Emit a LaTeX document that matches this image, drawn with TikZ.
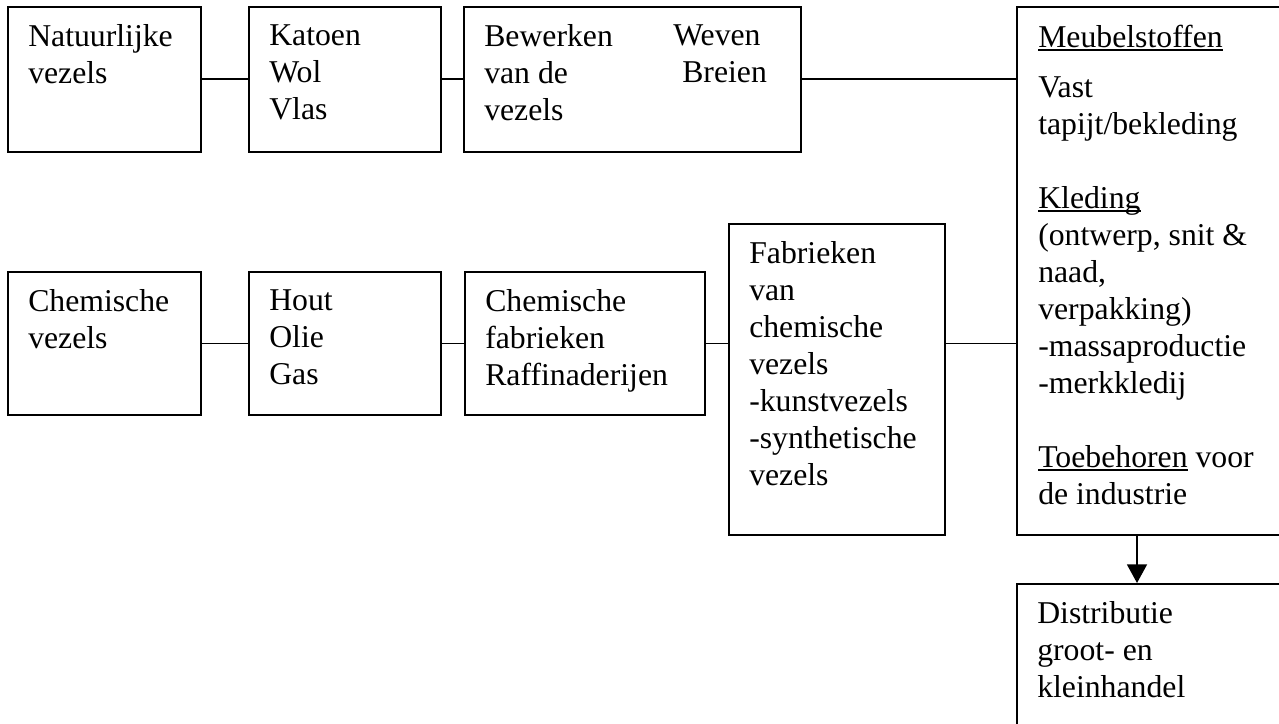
\documentclass[tikz,border=0pt]{standalone}
\usepackage{fontspec}
\setmainfont{Liberation Serif}
\usetikzlibrary{arrows.meta}

\newcommand{\undl}[1]{\setbox0\hbox{#1}\rlap{\rule[-2.8pt]{\wd0}{1.1pt}}\box0\relax}

\tikzset{
	box/.style={draw, line width=1.3pt, inner sep=0pt, anchor=north west},
	sz/.style 2 args={minimum width=#1*0.75pt, minimum height=#2*0.75pt},
	lab/.style={anchor=north west, inner sep=0pt, align=left,
		font=\fontsize{23.8pt}{27.75pt}\selectfont, xshift=15.75pt, yshift=-13.8pt},
	conn/.style={line width=1.3pt},
	arr/.style={line width=1.3pt, -{Triangle[length=14pt, width=15pt]}}
}

\begin{document}
\begin{tikzpicture}[x=0.75pt, y=-0.75pt]
		\clip (0,0) rectangle (1279,724);

		% Natural fibres
		\node[box, sz={193}{145}] (nat) at (7,6) {};
		\node[box, sz={192}{145}] (kat) at (248,6) {};
		\node[box, sz={337}{145}] (bew) at (463,6) {};
		\node[lab] (natT) at (nat.north west) {Natuurlijke\\vezels};
		\node[lab] (katT) at (kat.north west) {Katoen\\Wol\\Vlas};
		\node[lab] (bewT) at (bew.north west) {Bewerken\\van de\\vezels};
		\node[lab, xshift=141.75pt] (bewR) at (bew.north west) {Weven\\\hspace*{6.75pt}Breien};

		% Chemical fibres
		\node[box, sz={193}{143}] (chem) at (7,271) {};
		\node[box, sz={192}{143}] (hout) at (248,271) {};
		\node[box, sz={240}{143}] (raff) at (464,271) {};
		\node[box, sz={216}{311}] (fab) at (728,223) {};
		\node[lab] (chemT) at (chem.north west) {Chemische\\vezels};
		\node[lab] (houtT) at (hout.north west) {Hout\\Olie\\Gas};
		\node[lab] (raffT) at (raff.north west) {Chemische\\fabrieken\\Raffinaderijen};
		\node[lab] (fabT) at (fab.north west) {Fabrieken\\van\\chemische\\vezels\\-kunstvezels\\-synthetische\\vezels};

		% Products and distribution
		\node[box, sz={274}{528}] (meub) at (1016,6) {};
		\node[box, sz={274}{160}] (dist) at (1016,583) {};
		\node[lab, xshift=0.75pt] (meubT) at (meub.north west) {\undl{Meubelstoffen}\\[9.75pt]
			Vast\\tapijt/bekleding\\[27.75pt]
			\undl{Kleding}\\(ontwerp, snit \&\\naad,\\verpakking)\\-massaproductie\\-merkkledij\\[27.75pt]
			\undl{Toebehoren} voor\\de industrie};
		\node[lab] (distT) at (dist.north west) {Distributie\\groot- en\\kleinhandel};

		% Connectors
		\draw[conn] (nat.east) -- (kat.west);
		\draw[conn] (kat.east) -- (bew.west);
		\draw[conn] (bew.east) -- (bew.east -| meub.west);
		\draw[conn] (chem.east) -- (hout.west);
		\draw[conn] (hout.east) -- (raff.west);
		\draw[conn] (raff.east) -- (raff.east -| fab.west);
		\draw[conn] (raff.east -| fab.east) -- (raff.east -| meub.west);
		\draw[arr] ([xshift=90.75pt]meub.south west) -- ([xshift=90.75pt]dist.north west);
	\end{tikzpicture}
\end{document}
